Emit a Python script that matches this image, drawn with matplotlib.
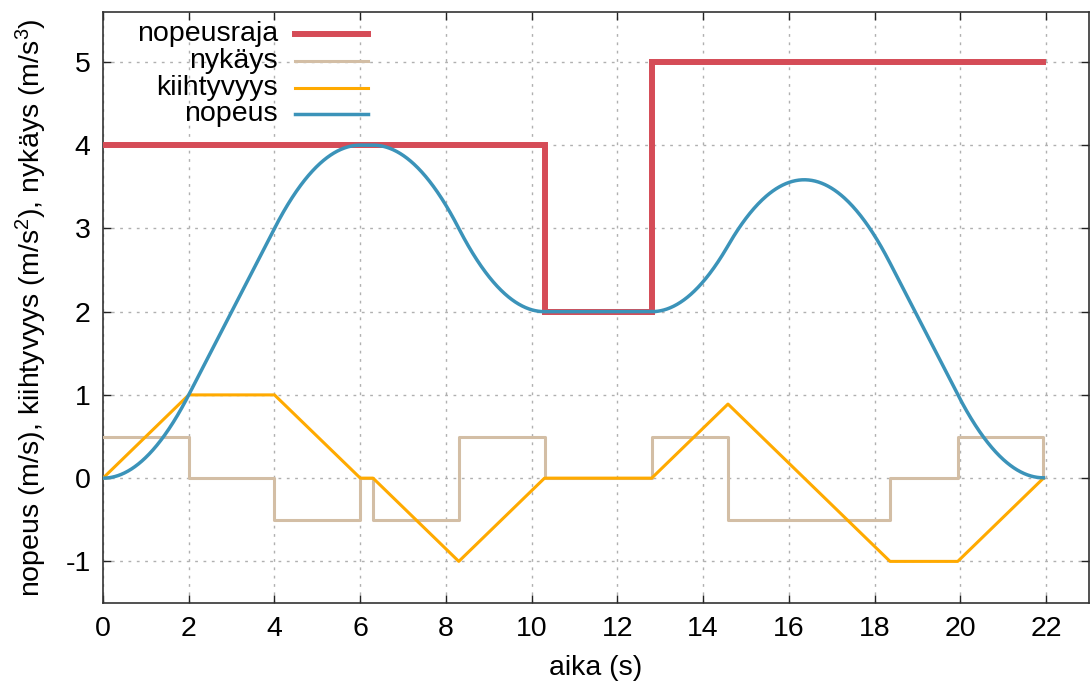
import numpy as np
import matplotlib
matplotlib.use("Agg")
import matplotlib.pyplot as plt

plt.rcParams['font.family'] = ['Liberation Sans', 'DejaVu Sans']
plt.rcParams['mathtext.fontset'] = 'custom'
plt.rcParams['mathtext.rm'] = 'Liberation Sans'
plt.rcParams['mathtext.default'] = 'regular'
plt.rcParams['axes.unicode_minus'] = False

# Jerk profile (piecewise constant): breakpoints (s) and values (m/s^3)
jerk_t = [0, 2, 4, 6, 6.3, 8.3, 10.3, 12.8, 14.58, 18.36, 19.94, 21.94]
jerk_v = [0.5, 0, -0.5, 0, -0.5, 0.5, 0, 0.5, -0.5, 0, 0.5]

# Speed limit: breakpoints (s) and limit values (m/s)
limit_t = [0, 10.3, 12.8, 21.94]
limit_v = [4, 2, 5]

x_ticks = list(range(0, 23, 2))
y_ticks = list(range(-1, 6))

# Integrate jerk exactly (piecewise) into acceleration and speed
t_dense, a_dense, v_dense = [], [], []
a0, v0 = 0.0, 0.0
for k in range(len(jerk_v)):
    t0, t1, j = jerk_t[k], jerk_t[k + 1], jerk_v[k]
    tt = np.linspace(t0, t1, 200)
    dt = tt - t0
    t_dense.append(tt)
    a_dense.append(a0 + j * dt)
    v_dense.append(v0 + a0 * dt + 0.5 * j * dt ** 2)
    h = t1 - t0
    v0 = v0 + a0 * h + 0.5 * j * h ** 2
    a0 = a0 + j * h
t_dense = np.concatenate(t_dense)
a_dense = np.concatenate(a_dense)
v_dense = np.concatenate(v_dense)

fig = plt.figure(figsize=(10.9, 6.84), dpi=100)
ax = fig.add_axes([0.0945, 0.1184, 0.9045, 0.8641])

c_limit = '#d54c57'
c_jerk = '#d3bea5'
c_acc = '#ffaa00'
c_vel = '#3b93b9'

# speed limit
lx = [limit_t[0]]
ly = [limit_v[0]]
for i in range(1, len(limit_v)):
    lx += [limit_t[i], limit_t[i]]
    ly += [limit_v[i - 1], limit_v[i]]
lx.append(limit_t[-1])
ly.append(limit_v[-1])
ax.plot(lx, ly, color=c_limit, lw=4.3, solid_joinstyle='miter', zorder=3)

# jerk as steps
jx = [jerk_t[0]]
jy = [jerk_v[0]]
for i in range(1, len(jerk_v)):
    jx += [jerk_t[i], jerk_t[i]]
    jy += [jerk_v[i - 1], jerk_v[i]]
jx += [jerk_t[-1], jerk_t[-1]]
jy += [jerk_v[-1], 0]
ax.plot(jx, jy, color=c_jerk, lw=2.2, zorder=4)

ax.plot(t_dense, a_dense, color=c_acc, lw=2.2, zorder=5)
ax.plot(t_dense, v_dense, color=c_vel, lw=2.5, zorder=6)

ax.set_xlim(0, 23)
ax.set_ylim(-1.5, 5.6)
ax.set_xticks(x_ticks)
ax.set_yticks(y_ticks)
ax.tick_params(direction='in', length=6, width=1, top=True, right=True,
               labelsize=20.5, pad=9, colors='#222222', labelcolor='black')
ax.grid(True, color='#b0b0b0', linestyle=(0, (2, 4)), lw=1)
for s in ax.spines.values():
    s.set_color('#333333')
    s.set_linewidth(1.2)

ax.set_xlabel('aika (s)', fontsize=20.5, labelpad=10)
ax.set_ylabel('nopeus (m/s), kiihtyvyys (m/s$^2$), nykäys (m/s$^3$)',
              fontsize=20.5, labelpad=12)

# key: right-aligned labels with line samples to their right
labels = ['nopeusraja', 'nykäys', 'kiihtyvyys', 'nopeus']
colors = [c_limit, c_jerk, c_acc, c_vel]
widths = [4.3, 2.2, 2.2, 2.5]
W, H = 1090.0, 684.0
x0, y0, w, h = 0.0945 * W, 0.1184 * H, 0.9045 * W, 0.8641 * H
def to_ax(px, py):
    return (px - x0) / w, ((H - py) - y0) / h
rows = [34, 61, 88, 114]
for lab, col, lw_, py in zip(labels, colors, widths, rows):
    tx, ty = to_ax(278, py)
    ax.text(tx, ty, lab, transform=ax.transAxes, ha='right', va='center',
            fontsize=20.5, zorder=10)
    xa, ya = to_ax(295, py)
    xb, _ = to_ax(368, py)
    ax.plot([xa, xb], [ya, ya], transform=ax.transAxes, color=col, lw=lw_,
            zorder=10, clip_on=False)

fig.savefig('out.png', dpi=100)
